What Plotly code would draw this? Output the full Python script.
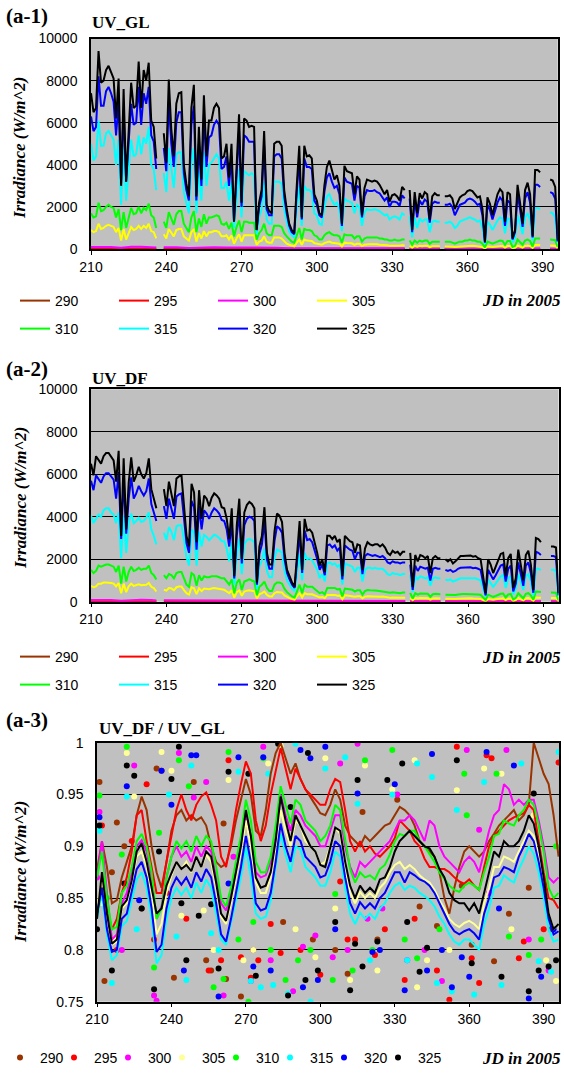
import plotly.graph_objects as go

W, H = 564, 1075

# ---------------- data ----------------
wavelengths = ['290', '295', '300', '305', '310', '315', '320', '325']
days = list(range(210, 397))          # daily axis, JD in 2005
days3 = list(range(210, 397, 2))      # ratio curves
lo_days = [210, 214, 218, 222, 226, 230, 234, 236, 237, 239, 244, 249, 254, 259, 264, 269, 274, 279,
           284, 289, 294, 299, 304, 309, 314, 319, 324, 329, 335, 336, 337, 343, 349, 350, 351, 358,
           365, 372, 379, 384, 389, 390, 393, 396]

# ---- (a-1) UV_GL ----
gl_290 = [3, 4, 3, 2, 3, 4, 3, 2, None, 2, 3, 2, 2, 3, 2, 2, 2, 1, 2, 1, 1, 1, 1, 1, 1, 1, 1, 1, 1, None,
          1, 1, 1, None, 1, 1, 1, 1, 1, 1, 1, None, 1, 0]
gl_295 = [25, 30, 25, 15, 28, 30, 25, 20, None, 20, 22, 12, 20, 22, 18, 18, 18, 12, 15, 10, 10, 12, 10, 10,
          9, 8, 8, 7, 7, None, 6, 6, 6, None, 5, 5, 5, 5, 5, 5, 6, None, 5, 2]
gl_300 = [100, 110, 95, 60, 105, 110, 90, 70, None, 80, 85, 50, 80, 85, 70, 75, 70, 50, 65, 40, 45, 50, 45,
          40, 40, 35, 35, 30, 30, None, 25, 25, 25, None, 25, 25, 25, 22, 20, 25, 28, None, 25, 10]
gl_305 = [900, 800, 850, 1200, 950, 1000, 1100, 1150, 1100, 1050,
          800, 1000, 400, 950, 450, 800, 1050, 900, 950, 1100,
          950, 1100, 1000, 1200, 850, 800, 500, None, None, 700,
          500, 950, 750, 600, 900, 950, 950, 600, 500, 400,
          800, 950, 350, 750, 500, 850, 600, 800, 800, 850,
          850, 800, 600, 600, 650, 450, 650, 250, 500, 700,
          350, 650, 650, 650, 650, 650, 200, 350, 400, 600,
          350, 300, 300, 550, 550, 550, 500, 350, 250, 200,
          150, 130, 300, 450, 200, 450, 400, 400, 380, 280,
          250, 200, 200, 280, 320, 350, 300, 280, 280, 250,
          120, 300, 280, 280, 270, 200, 250, 250, 140, 200,
          230, 230, 220, 230, 220, 200, 200, 180, 180, 150,
          160, 170, 160, 150, 180, 170, None, 150, 70, 150,
          110, 150, 130, 150, 150, 90, 130, 130, 130, 130,
          None, 120, 120, 130, 110, 90, 100, 120, 130, 140,
          150, 160, 150, 140, 130, 130, 90, 30, 120, 110,
          90, 110, 130, 150, 140, 70, 140, 140, 40, 60,
          160, 120, 70, 150, 170, 140, 50, 190, 190, 190,
          None, None, None, 170, 170, 160, 40]
gl_310 = [1700, 1500, 1550, 2200, 1800, 1850, 2000, 2100, 2000, 1950,
          1500, 1900, 900, 1750, 1000, 1500, 1950, 1650, 1700, 2000,
          1700, 1950, 1850, 2150, 1600, 1500, 1000, None, None, 1300,
          1000, 1750, 1400, 1150, 1650, 1800, 1800, 1200, 1000, 800,
          1500, 1800, 800, 1450, 1050, 1650, 1200, 1500, 1500, 1550,
          1600, 1550, 1200, 1150, 1250, 950, 1250, 600, 1050, 1350,
          800, 1300, 1300, 1250, 1250, 1250, 450, 750, 900, 1200,
          750, 650, 650, 1100, 1100, 1100, 1050, 750, 600, 450,
          350, 300, 700, 1000, 450, 950, 900, 900, 850, 650,
          600, 450, 450, 650, 750, 800, 700, 650, 650, 600,
          300, 700, 650, 650, 650, 500, 600, 600, 350, 500,
          550, 550, 550, 550, 550, 500, 500, 450, 450, 400,
          400, 450, 400, 400, 450, 450, None, 400, 200, 400,
          300, 400, 350, 400, 400, 250, 350, 350, 350, 350,
          None, 350, 350, 350, 300, 250, 300, 350, 350, 400,
          400, 450, 400, 400, 350, 350, 250, 80, 350, 300,
          250, 300, 350, 400, 380, 200, 380, 380, 100, 150,
          450, 320, 200, 400, 450, 380, 120, 500, 500, 500,
          None, None, None, 450, 450, 420, 100]
gl_315 = [5000, 4200, 4400, 6100, 4900, 4900, 5500, 5600, 5400, 5200,
          4000, 5200, 2100, 4900, 2300, 3800, 5200, 4400, 4500, 5400,
          4500, 5300, 5000, 5800, 4000, 3800, 2800, None, None, 3600,
          2700, 4800, 3700, 2900, 4500, 4600, 4600, 2700, 2200, 1700,
          4100, 4800, 1700, 3700, 2300, 4600, 3000, 4000, 4100, 4300,
          4500, 4300, 2900, 2900, 3200, 2300, 3200, 1000, 2600, 3800,
          1500, 3700, 3600, 3500, 3600, 3500, 700, 1500, 1900, 3200,
          1400, 1200, 1200, 3200, 3200, 3200, 3100, 1900, 1300, 850,
          650, 550, 2000, 3000, 1100, 3000, 2800, 2800, 2700, 1700,
          1600, 1200, 1150, 2000, 2500, 2600, 2300, 2100, 2200, 1900,
          850, 2400, 2300, 2250, 2200, 1700, 2100, 2000, 1100, 1750,
          1900, 1850, 1850, 1900, 1850, 1800, 1700, 1600, 1650, 1400,
          1500, 1550, 1500, 1400, 1700, 1600, None, 1550, 550, 1500,
          1000, 1450, 1300, 1400, 1400, 800, 1300, 1350, 1300, 1300,
          None, 1250, 1250, 1300, 1200, 1000, 1100, 1300, 1350, 1400,
          1450, 1500, 1450, 1400, 1300, 1350, 1000, 250, 1300, 1150,
          900, 1150, 1350, 1500, 1450, 750, 1450, 1400, 300, 550,
          1600, 1200, 700, 1500, 1700, 1400, 400, 1950, 1950, 1900,
          None, None, None, 1750, 1700, 1500, 300]
gl_320 = [6300, 5600, 5800, 8200, 6800, 6800, 7500, 7700, 7400, 7000,
          5400, 7000, 3100, 6600, 3200, 5000, 6900, 5900, 6000, 7700,
          5900, 7400, 6900, 7700, 5400, 5100, 3800, None, None, 4800,
          3700, 7000, 5000, 3900, 6000, 6500, 6500, 3600, 2800, 2300,
          5900, 6800, 2300, 5000, 3000, 6400, 3900, 5300, 5400, 5900,
          6100, 5900, 3800, 3900, 4400, 3000, 4400, 1300, 3600, 5600,
          2000, 5400, 5300, 5100, 5100, 5100, 900, 2000, 2500, 4900,
          1900, 1600, 1600, 4400, 4500, 4500, 4300, 2500, 1700, 1100,
          800, 700, 2700, 4300, 1400, 4300, 3900, 3900, 3800, 2300,
          2100, 1600, 1500, 2700, 3400, 3600, 3200, 2900, 3000, 2600,
          1100, 3400, 3200, 3150, 3100, 2300, 3000, 2900, 1500, 2500,
          2800, 2750, 2750, 2800, 2700, 2650, 2500, 2300, 2450, 2000,
          2250, 2250, 2200, 2050, 2550, 2400, None, 2400, 800, 2350,
          1500, 2300, 2100, 2350, 2250, 1250, 2150, 2250, 2200, 2200,
          None, 2100, 2100, 2150, 2000, 1600, 1850, 2100, 2150, 2200,
          2350, 2400, 2350, 2250, 2100, 2150, 1600, 300, 2100, 1850,
          1400, 1800, 2200, 2450, 2300, 1100, 2300, 2200, 450, 800,
          2600, 1900, 1050, 2400, 2700, 2200, 550, 3050, 3050, 2950,
          None, None, None, 2700, 2650, 2400, 350]
gl_325 = [7400, 6500, 6700, 9400, 7900, 8000, 8500, 8700, 8400, 8100,
          6200, 8100, 3000, 7600, 3200, 5800, 7900, 6700, 6800, 8900,
          6700, 8500, 8000, 8850, 6100, 5800, 4300, None, None, 5500,
          4100, 8050, 5700, 4400, 6900, 7400, 7450, 4000, 3100, 2500,
          6700, 7800, 2500, 5800, 3300, 7300, 4400, 6100, 6100, 6700,
          6900, 6700, 4300, 4400, 5000, 3400, 5000, 1300, 4100, 6400,
          2200, 6200, 6100, 5800, 5850, 5800, 900, 2200, 2800, 5600,
          2100, 1800, 1700, 5000, 5100, 5100, 4900, 2800, 1900, 1200,
          900, 750, 3000, 4900, 1500, 4900, 4400, 4450, 4300, 2600,
          2300, 1700, 1600, 3000, 3900, 4200, 3750, 3300, 3500, 3000,
          1200, 3950, 3700, 3650, 3600, 2600, 3450, 3300, 1600, 2900,
          3300, 3250, 3200, 3250, 3200, 3050, 2850, 2600, 2800, 2250,
          2550, 2600, 2500, 2300, 2950, 2800, None, 2800, 900, 2700,
          1700, 2650, 2400, 2700, 2600, 1400, 2500, 2650, 2550, 2550,
          None, 2500, 2500, 2550, 2400, 1900, 2150, 2450, 2550, 2600,
          2750, 2800, 2750, 2600, 2450, 2500, 1900, 350, 2450, 2150,
          1600, 2100, 2600, 2850, 2700, 1300, 2700, 2600, 500, 900,
          3050, 2200, 1200, 2800, 3150, 2600, 600, 3750, 3750, 3650,
          None, None, None, 3300, 3250, 2950, 400]

# ---- (a-2) UV_DF ----
df_290 = [2, 3, 2, 1, 2, 3, 2, 2, None, 2, 2, 1, 2, 2, 2, 2, 1, 1, 1, 1, 1, 1, 1, 1, 1, 1, 1, 1, 1, None,
          1, 1, 1, None, 1, 1, 1, 1, 1, 1, 1, None, 1, 0]
df_295 = [22, 26, 22, 14, 24, 26, 22, 18, None, 18, 20, 11, 18, 20, 16, 16, 16, 10, 13, 9, 9, 10, 9, 9,
          8, 7, 7, 6, 6, None, 5, 5, 5, None, 5, 5, 5, 5, 4, 5, 5, None, 5, 2]
df_300 = [80, 90, 80, 50, 85, 90, 75, 60, None, 65, 70, 45, 65, 70, 60, 60, 60, 40, 55, 35, 40, 45, 40,
          35, 35, 30, 30, 28, 28, None, 22, 22, 22, None, 22, 22, 22, 20, 18, 22, 25, None, 22, 8]
df_305 = [750, 680, 720, 850, 850, 900, 900, 900, 880, 850,
          720, 880, 400, 850, 450, 720, 850, 740, 780, 820,
          780, 800, 800, 880, 700, 640, 480, None, None, 560,
          520, 640, 620, 540, 680, 710, 710, 550, 400, 340,
          680, 630, 360, 630, 500, 620, 590, 590, 620, 640,
          620, 600, 570, 560, 480, 400, 540, 190, 450, 530,
          280, 480, 520, 540, 520, 490, 150, 350, 400, 480,
          320, 250, 250, 400, 450, 450, 430, 300, 220, 170,
          120, 100, 270, 400, 200, 400, 350, 350, 350, 300,
          250, 200, 220, 170, 320, 320, 300, 320, 280, 290,
          120, 300, 290, 280, 270, 230, 260, 260, 160, 240,
          260, 250, 240, 250, 240, 230, 240, 220, 200, 190,
          200, 190, 190, 180, 190, 190, None, 180, 70, 170,
          150, 170, 160, 150, 160, 100, 150, 160, 150, 150,
          None, 140, 130, 140, 120, 130, 140, 150, 150, 150,
          150, 160, 150, 150, 140, 130, 80, 30, 130, 110,
          90, 110, 130, 150, 160, 80, 140, 150, 40, 70,
          170, 110, 60, 150, 170, 120, 40, 200, 200, 190,
          None, None, None, 180, 180, 170, 30]
df_310 = [1500, 1350, 1450, 1700, 1650, 1700, 1750, 1750, 1700, 1650,
          1400, 1700, 850, 1650, 950, 1400, 1650, 1450, 1500, 1600,
          1500, 1550, 1550, 1700, 1350, 1250, 1050, None, None, 1250,
          1100, 1300, 1250, 1100, 1350, 1400, 1400, 1100, 800, 700,
          1350, 1250, 750, 1250, 1000, 1200, 1150, 1150, 1200, 1200,
          1200, 1150, 1100, 1100, 950, 800, 1050, 400, 900, 1050,
          550, 950, 1000, 1050, 1000, 950, 300, 700, 800, 950,
          650, 500, 500, 800, 900, 900, 850, 600, 450, 350,
          250, 200, 550, 800, 400, 800, 700, 700, 700, 600,
          500, 400, 450, 350, 650, 650, 620, 650, 580, 600,
          250, 620, 600, 580, 560, 480, 540, 540, 330, 500,
          550, 540, 520, 530, 520, 500, 510, 480, 440, 420,
          440, 430, 430, 400, 430, 430, None, 420, 150, 400,
          330, 380, 370, 350, 370, 230, 350, 370, 350, 350,
          None, 330, 320, 330, 300, 320, 340, 360, 360, 360,
          360, 370, 360, 360, 340, 330, 200, 80, 330, 290,
          230, 270, 330, 370, 380, 200, 340, 370, 100, 180,
          400, 270, 160, 370, 400, 300, 90, 480, 470, 460,
          None, None, None, 430, 430, 420, 60]
df_315 = [4050, 3700, 3900, 4100, 4000, 4300, 4400, 4400, 4200, 4100,
          3700, 4200, 2050, 4050, 2300, 3700, 4150, 3700, 3800, 3950,
          3750, 3800, 3950, 4200, 3400, 3100, 2700, None, None, 3250,
          2900, 3500, 3300, 2900, 3550, 3600, 3600, 2900, 2100, 1700,
          3400, 3250, 1700, 3300, 2600, 3150, 3050, 2900, 3050, 3150,
          3100, 3000, 2850, 2850, 2500, 1900, 2800, 800, 2300, 2950,
          1300, 2700, 2900, 2950, 2900, 2800, 600, 1650, 1950, 2500,
          1450, 1150, 1150, 2050, 2450, 2400, 2300, 1450, 1000, 800,
          600, 500, 1450, 2250, 1000, 2300, 2000, 2050, 1950, 1700,
          1500, 1100, 1300, 950, 1800, 1850, 1750, 1800, 1650, 1750,
          800, 1800, 1750, 1700, 1650, 1400, 1600, 1600, 950, 1500,
          1600, 1600, 1550, 1600, 1550, 1550, 1550, 1450, 1300, 1250,
          1350, 1300, 1300, 1250, 1300, 1300, None, 1250, 450, 1200,
          1050, 1200, 1150, 1100, 1150, 750, 1100, 1150, 1100, 1100,
          None, 1050, 1000, 1050, 950, 1000, 1050, 1100, 1100, 1100,
          1100, 1120, 1100, 1100, 1050, 1000, 650, 250, 1050, 900,
          700, 850, 1050, 1200, 1250, 650, 1100, 1200, 350, 600,
          1300, 900, 550, 1200, 1300, 950, 300, 1550, 1550, 1500,
          None, None, None, 1500, 1500, 1450, 250]
df_320 = [5700, 5250, 5950, 5800, 5600, 5900, 6050, 6050, 5900, 5750,
          4850, 6100, 2950, 5800, 3200, 4850, 5850, 4850, 5100, 5450,
          5200, 5000, 5200, 5800, 4600, 4200, 3800, None, None, 4500,
          3900, 4850, 4400, 3900, 4950, 5050, 5100, 3900, 2750, 2300,
          4750, 4450, 2450, 4500, 3400, 4300, 4150, 3900, 4200, 4400,
          4300, 4150, 3850, 3800, 3400, 2600, 3800, 1100, 3100, 4150,
          1800, 3600, 3900, 4000, 3950, 3800, 800, 2250, 2700, 3800,
          2000, 1550, 1550, 2850, 3550, 3450, 3250, 2000, 1350, 1050,
          800, 650, 2000, 3250, 1350, 3350, 2900, 2950, 2800, 2450,
          2000, 1500, 1750, 1250, 2650, 2700, 2550, 2650, 2400, 2550,
          1050, 2650, 2550, 2450, 2400, 2000, 2300, 2300, 1300, 2150,
          2250, 2200, 2150, 2200, 2150, 2100, 2150, 2050, 1850, 1800,
          1900, 1850, 1850, 1800, 1850, 1850, None, 1750, 550, 1700,
          1450, 1650, 1600, 1550, 1600, 1000, 1550, 1600, 1550, 1550,
          None, 1500, 1450, 1500, 1400, 1450, 1550, 1600, 1600, 1600,
          1600, 1620, 1580, 1600, 1550, 1500, 900, 300, 1500, 1300,
          1050, 1250, 1500, 1700, 1750, 950, 1550, 1700, 480, 850,
          1850, 1250, 750, 1700, 1850, 1350, 420, 2350, 2300, 2200,
          None, None, None, 2150, 2150, 2100, 300]
df_325 = [6500, 5950, 6850, 6700, 6500, 6850, 7000, 7000, 6850, 6650,
          5650, 7100, 3100, 6750, 3400, 5600, 6800, 5650, 5950, 6350,
          6000, 5800, 6050, 6750, 5300, 4850, 4400, None, None, 5300,
          4500, 5650, 5150, 4500, 5800, 5900, 5950, 4500, 3100, 2600,
          5550, 5150, 2800, 5250, 3900, 5000, 4850, 4500, 4900, 5100,
          5000, 4850, 4450, 4400, 3900, 2950, 4400, 1200, 3600, 4850,
          2000, 4200, 4550, 4700, 4600, 4400, 900, 2600, 3100, 4450,
          2300, 1750, 1750, 3300, 4150, 4050, 3750, 2300, 1500, 1200,
          900, 700, 2300, 3800, 1500, 3900, 3350, 3400, 3250, 2800,
          2300, 1700, 2000, 1400, 3100, 3100, 2950, 3100, 2800, 2950,
          1200, 3100, 2950, 2850, 2800, 2300, 2700, 2650, 1500, 2500,
          2800, 2700, 2650, 2700, 2700, 2600, 2700, 2550, 2300, 2200,
          2400, 2300, 2350, 2200, 2350, 2350, None, 2300, 700, 2200,
          1900, 2200, 2150, 2050, 2150, 1350, 2050, 2150, 2050, 2050,
          None, 2000, 1900, 2000, 1800, 1900, 2050, 2150, 2150, 2150,
          2150, 2180, 2120, 2150, 2050, 2000, 1200, 400, 2000, 1750,
          1350, 1650, 2000, 2250, 2300, 1200, 2050, 2250, 650, 1100,
          2450, 1650, 1000, 2200, 2400, 1750, 550, 3000, 2950, 2800,
          None, None, None, 2600, 2600, 2550, 400]

# ---- (a-3) UV_DF / UV_GL : smoothed ratio curves (every 2nd day) ----
r_290 = [0.877, 0.905, 0.88, 0.845, 0.848, 0.87, 0.885, 0.9, 0.93, 0.948,
         0.935, 0.9, 0.875, 0.86, 0.885, 0.915, 0.93, 0.935, 0.925, 0.93,
         0.925, 0.928, 0.92, 0.9, 0.885, 0.88, 0.883, 0.9, 0.925, 0.945,
         0.965, 0.95, 0.915, 0.91, 0.935, 0.97, 0.99, 1.0, 0.985, 0.97,
         0.98, 0.965, 0.955, 0.948, 0.94, 0.932, 0.93, 0.94, 0.955, 0.945,
         0.92, 0.91, 0.905, 0.9, 0.91, 0.905, 0.91, 0.915, 0.92, 0.922,
         0.93, 0.938, 0.935, 0.93, 0.92, 0.905, 0.9, 0.895, 0.89, 0.875,
         0.85, 0.835, 0.86, 0.88, 0.895, 0.9, 0.895, 0.89, 0.895, 0.905,
         0.912, 0.92, 0.925, 0.93, 0.935, 0.925, 0.93, 0.94, 1.0, 0.985,
         0.97, 0.96, 0.93, 0.89]
r_295 = [0.835, 0.87, 0.84, 0.82, 0.83, 0.855, 0.87, 0.895, 0.93, 0.935,
         0.905, 0.88, 0.855, 0.855, 0.885, 0.91, 0.935, 0.95, 0.935, 0.925,
         0.94, 0.948, 0.952, 0.94, 0.925, 0.89, 0.88, 0.905, 0.935, 0.96,
         0.982, 0.97, 0.925, 0.905, 0.92, 0.95, 0.972, 0.995, 0.975, 0.955,
         0.975, 0.965, 0.955, 0.95, 0.945, 0.94, 0.94, 0.955, 0.965, 0.962,
         0.935, 0.905, 0.895, 0.905, 0.895, 0.9, 0.893, 0.89, 0.895, 0.9,
         0.908, 0.925, 0.92, 0.915, 0.905, 0.9, 0.888, 0.88, 0.88, 0.878,
         0.878, 0.875, 0.87, 0.866, 0.864, 0.868, 0.862, 0.858, 0.88, 0.9,
         0.91, 0.915, 0.92, 0.925, 0.928, 0.93, 0.932, 0.94, 0.935, 0.905,
         0.875, 0.85, 0.848, 0.84]
r_300 = [0.87, 0.905, 0.855, 0.81, 0.815, 0.845, 0.855, 0.875, 0.9, 0.906,
         0.895, 0.87, 0.83, 0.842, 0.87, 0.89, 0.9, 0.89, 0.895, 0.885,
         0.9, 0.89, 0.9, 0.895, 0.87, 0.845, 0.838, 0.855, 0.88, 0.905,
         0.93, 0.91, 0.875, 0.87, 0.872, 0.885, 0.91, 0.95, 0.93, 0.915,
         0.935, 0.93, 0.92, 0.915, 0.91, 0.9, 0.9, 0.915, 0.93, 0.93,
         0.9, 0.88, 0.87, 0.885, 0.88, 0.885, 0.89, 0.895, 0.9, 0.905,
         0.915, 0.925, 0.925, 0.93, 0.925, 0.915, 0.905, 0.925, 0.92, 0.9,
         0.89, 0.885, 0.88, 0.875, 0.885, 0.89, 0.885, 0.875, 0.895, 0.915,
         0.93, 0.935, 0.96, 0.955, 0.94, 0.945, 0.94, 0.945, 0.945, 0.925,
         0.9, 0.87, 0.865, 0.87]
r_305 = [0.84, 0.87, 0.83, 0.805, 0.808, 0.84, 0.845, 0.865, 0.89, 0.895,
         0.88, 0.855, 0.815, 0.825, 0.855, 0.872, 0.885, 0.878, 0.885, 0.875,
         0.89, 0.88, 0.892, 0.885, 0.86, 0.832, 0.825, 0.845, 0.87, 0.895,
         0.925, 0.9, 0.865, 0.855, 0.855, 0.87, 0.9, 0.935, 0.915, 0.9,
         0.925, 0.92, 0.905, 0.9, 0.895, 0.882, 0.885, 0.9, 0.918, 0.912,
         0.88, 0.855, 0.845, 0.856, 0.85, 0.855, 0.85, 0.86, 0.865, 0.875,
         0.882, 0.885, 0.878, 0.882, 0.878, 0.872, 0.868, 0.865, 0.858, 0.848,
         0.84, 0.83, 0.825, 0.822, 0.826, 0.828, 0.825, 0.82, 0.845, 0.86,
         0.88, 0.88, 0.89, 0.888, 0.885, 0.895, 0.905, 0.915, 0.91, 0.89,
         0.865, 0.835, 0.82, 0.825]
r_310 = [0.87, 0.895, 0.85, 0.82, 0.822, 0.855, 0.862, 0.88, 0.905, 0.912,
         0.9, 0.875, 0.83, 0.84, 0.87, 0.89, 0.905, 0.898, 0.905, 0.895,
         0.91, 0.9, 0.91, 0.905, 0.88, 0.85, 0.842, 0.86, 0.885, 0.91,
         0.945, 0.925, 0.885, 0.875, 0.875, 0.89, 0.92, 0.958, 0.94, 0.922,
         0.945, 0.94, 0.925, 0.92, 0.915, 0.905, 0.91, 0.92, 0.94, 0.935,
         0.905, 0.878, 0.865, 0.875, 0.87, 0.872, 0.868, 0.878, 0.882, 0.892,
         0.905, 0.912, 0.91, 0.915, 0.915, 0.905, 0.9, 0.892, 0.885, 0.875,
         0.868, 0.862, 0.858, 0.856, 0.862, 0.865, 0.862, 0.858, 0.875, 0.89,
         0.91, 0.912, 0.925, 0.922, 0.92, 0.93, 0.935, 0.945, 0.94, 0.92,
         0.895, 0.86, 0.85, 0.855]
r_315 = [0.83, 0.855, 0.815, 0.79, 0.795, 0.823, 0.828, 0.848, 0.868, 0.875,
         0.86, 0.83, 0.787, 0.795, 0.83, 0.85, 0.86, 0.853, 0.86, 0.85,
         0.865, 0.855, 0.868, 0.86, 0.835, 0.81, 0.805, 0.825, 0.848, 0.87,
         0.9, 0.87, 0.835, 0.83, 0.832, 0.848, 0.878, 0.912, 0.892, 0.875,
         0.9, 0.897, 0.88, 0.875, 0.87, 0.862, 0.862, 0.875, 0.895, 0.89,
         0.86, 0.835, 0.825, 0.836, 0.83, 0.835, 0.83, 0.84, 0.845, 0.855,
         0.862, 0.865, 0.858, 0.862, 0.86, 0.855, 0.852, 0.848, 0.842, 0.832,
         0.825, 0.815, 0.808, 0.805, 0.81, 0.81, 0.805, 0.8, 0.825, 0.84,
         0.86, 0.862, 0.872, 0.868, 0.865, 0.878, 0.888, 0.9, 0.893, 0.875,
         0.85, 0.82, 0.808, 0.81]
r_320 = [0.835, 0.86, 0.82, 0.798, 0.8, 0.83, 0.835, 0.855, 0.878, 0.885,
         0.87, 0.84, 0.798, 0.805, 0.84, 0.86, 0.87, 0.863, 0.87, 0.86,
         0.875, 0.866, 0.878, 0.87, 0.845, 0.815, 0.808, 0.83, 0.855, 0.88,
         0.91, 0.885, 0.845, 0.838, 0.84, 0.855, 0.885, 0.922, 0.9, 0.885,
         0.91, 0.905, 0.89, 0.885, 0.88, 0.87, 0.872, 0.885, 0.905, 0.9,
         0.87, 0.845, 0.835, 0.846, 0.84, 0.845, 0.84, 0.85, 0.855, 0.865,
         0.875, 0.875, 0.865, 0.875, 0.872, 0.868, 0.866, 0.862, 0.855, 0.845,
         0.835, 0.825, 0.818, 0.815, 0.818, 0.82, 0.816, 0.81, 0.835, 0.85,
         0.87, 0.872, 0.88, 0.878, 0.875, 0.89, 0.9, 0.912, 0.905, 0.885,
         0.86, 0.83, 0.815, 0.818]
r_325 = [0.83, 0.875, 0.835, 0.806, 0.81, 0.842, 0.848, 0.867, 0.895, 0.903,
         0.885, 0.86, 0.835, 0.84, 0.862, 0.874, 0.885, 0.878, 0.882, 0.876,
         0.89, 0.88, 0.895, 0.89, 0.865, 0.835, 0.828, 0.85, 0.875, 0.9,
         0.935, 0.91, 0.87, 0.86, 0.862, 0.875, 0.905, 0.948, 0.925, 0.905,
         0.93, 0.92, 0.91, 0.9, 0.895, 0.882, 0.88, 0.9, 0.918, 0.915,
         0.885, 0.862, 0.85, 0.862, 0.855, 0.86, 0.855, 0.868, 0.87, 0.88,
         0.895, 0.905, 0.91, 0.915, 0.91, 0.905, 0.9, 0.898, 0.89, 0.878,
         0.87, 0.855, 0.848, 0.845, 0.845, 0.838, 0.845, 0.835, 0.855, 0.875,
         0.895, 0.89, 0.905, 0.9, 0.9, 0.905, 0.915, 0.93, 0.922, 0.9,
         0.87, 0.835, 0.82, 0.825]

# daily ratio points standing out of the curves
d_290 = [211, 213, 216, 218, 221, 228, 234, 236, 241, 249, 254, 256, 261, 262, 268, 273, 285, 297, 306,
         311, 317, 323, 331, 340, 347, 357, 361, 370, 376, 384, 393]
v_290 = [0.962, 0.77, 0.875, 0.923, 0.9, 0.84, 0.975, 0.973, 0.773, 0.962, 0.79, 0.78, 0.922, 0.772,
         0.755, 0.8, 0.827, 0.81, 0.8, 0.777, 0.933, 0.81, 0.945, 0.842, 0.823, 0.862, 0.805, 0.789,
         0.835, 0.86, 0.82]
d_295 = [212, 218, 224, 230, 233, 238, 246, 255, 260, 263, 268, 272, 275, 280, 284, 292, 300, 308, 311,
         314, 322, 326, 334, 338, 347, 352, 355, 361, 364, 367, 369, 380, 382, 390, 396]
v_295 = [0.92, 0.8, 0.905, 0.96, 0.81, 0.855, 0.83, 0.78, 0.79, 0.983, 0.793, 0.773, 0.79, 0.825, 0.797,
         0.8, 0.776, 0.866, 0.81, 0.81, 0.795, 0.82, 0.771, 0.83, 0.78, 0.752, 0.996, 0.792, 0.768,
         0.988, 0.985, 0.792, 0.808, 0.82, 0.981]
d_300 = [210, 211, 220, 225, 233, 234, 243, 249, 254, 261, 265, 272, 277, 280, 289, 293, 298, 305, 308,
         311, 315, 319, 325, 331, 335, 342, 349, 359, 364, 368, 375, 384, 392]
v_300 = [0.87, 0.933, 0.8, 0.978, 0.756, 0.751, 0.99, 0.947, 0.962, 0.756, 0.89, 0.77, 0.996, 0.79,
         0.76, 0.803, 0.814, 0.793, 0.98, 0.8, 0.999, 0.83, 0.84, 0.95, 0.79, 0.8, 0.77, 0.993, 0.916,
         0.855, 0.993, 0.81, 0.78]
d_305 = [212, 217, 222, 225, 236, 240, 244, 253, 257, 263, 269, 273, 279, 284, 290, 298, 302, 306, 312,
         318, 323, 329, 338, 339, 343, 352, 355, 366, 373, 377, 386, 391, 395]
v_305 = [0.845, 0.81, 0.99, 0.948, 0.991, 0.973, 0.833, 0.838, 0.8, 0.964, 0.79, 0.8, 0.98, 0.997,
         0.82, 0.793, 0.985, 0.84, 0.771, 0.978, 0.78, 0.955, 0.983, 0.764, 0.79, 0.8, 0.954, 0.975,
         0.97, 0.82, 0.93, 0.79, 0.77]
d_310 = [211, 214, 220, 222, 233, 235, 243, 247, 257, 261, 263, 267, 271, 273, 277, 280, 286, 291, 296,
         305, 306, 313, 318, 321, 329, 334, 339, 348, 358, 359, 371, 376, 384, 389, 395]
v_310 = [0.949, 0.85, 0.892, 0.996, 0.783, 0.913, 0.983, 0.958, 0.764, 0.772, 0.991, 0.81, 0.75, 0.827,
         0.985, 0.8, 0.771, 0.79, 0.8, 0.771, 0.854, 0.78, 0.983, 0.8, 0.993, 0.81, 0.792, 0.82, 0.97,
         0.93, 0.97, 0.813, 0.795, 0.81, 0.9]
d_315 = [211, 216, 222, 226, 239, 242, 246, 248, 256, 259, 267, 272, 276, 279, 281, 287, 290, 296, 302,
         310, 315, 320, 329, 335, 339, 345, 347, 353, 355, 362, 366, 373, 381, 388, 393, 396]
v_315 = [0.915, 0.768, 0.948, 0.82, 0.95, 0.813, 0.771, 0.978, 0.816, 0.8, 0.972, 0.77, 0.764, 0.97,
         0.766, 0.758, 0.999, 0.75, 0.975, 0.986, 0.941, 0.79, 0.95, 0.79, 0.98, 0.967, 0.768, 0.76,
         0.935, 0.757, 0.962, 0.766, 0.98, 0.789, 0.779, 0.991]
d_320 = [211, 215, 222, 227, 236, 240, 245, 248, 250, 259, 263, 267, 273, 277, 280, 292, 293, 296, 299,
         302, 306, 315, 321, 324, 330, 334, 343, 345, 349, 353, 357, 360, 367, 372, 378, 384, 389, 394]
v_320 = [0.928, 0.82, 0.958, 0.848, 0.973, 0.94, 0.78, 0.988, 0.988, 0.755, 0.864, 0.986, 0.784, 0.986,
         0.78, 0.993, 0.764, 0.985, 0.771, 0.996, 0.82, 0.951, 0.798, 0.8, 0.96, 0.761, 0.78, 0.989, 0.8,
         0.764, 0.793, 0.774, 0.991, 0.84, 0.978, 0.753, 0.774, 0.82]
d_325 = [210, 211, 216, 221, 222, 225, 228, 233, 235, 240, 243, 244, 246, 251, 256, 259, 263, 271, 274,
         283, 287, 288, 294, 295, 299, 306, 312, 314, 315, 317, 323, 327, 333, 335, 340, 343, 355, 361,
         373, 384, 386, 388, 392, 395]
v_325 = [0.82, 0.92, 0.78, 0.864, 0.978, 0.968, 0.84, 0.762, 0.895, 0.965, 0.996, 0.845, 0.79, 0.833,
         0.844, 0.782, 0.972, 0.97, 0.775, 0.999, 0.756, 0.938, 0.771, 0.99, 0.78, 0.827, 0.761, 0.806,
         0.964, 0.784, 0.808, 0.964, 0.98, 0.827, 0.779, 0.802, 0.983, 0.787, 0.774, 0.76, 0.951, 0.78,
         0.784, 0.79]

# ---------------- styling ----------------
line_colors = {'290': '#993300', '295': '#FF0000', '300': '#FF00FF', '305': '#FFFF00',
               '310': '#00FF00', '315': '#00FFFF', '320': '#0000FF', '325': '#000000'}
ratio_colors = dict(line_colors, **{'305': '#FFFF99'})
SANS = 'Liberation Sans, Arial, sans-serif'
SERIF = 'Liberation Serif, Times New Roman, serif'


def fx(p):
    return p / W


def fy(p):
    return 1 - p / H


gl = {'290': gl_290, '295': gl_295, '300': gl_300, '305': gl_305,
      '310': gl_310, '315': gl_315, '320': gl_320, '325': gl_325}
df = {'290': df_290, '295': df_295, '300': df_300, '305': df_305,
      '310': df_310, '315': df_315, '320': df_320, '325': df_325}
ratio = {'290': r_290, '295': r_295, '300': r_300, '305': r_305,
         '310': r_310, '315': r_315, '320': r_320, '325': r_325}
dots = {'290': (d_290, v_290), '295': (d_295, v_295), '300': (d_300, v_300), '305': (d_305, v_305),
        '310': (d_310, v_310), '315': (d_315, v_315), '320': (d_320, v_320), '325': (d_325, v_325)}
low = ('290', '295', '300')

fig = go.Figure()

for data, xa, ya, legs in ((gl, 'x', 'y', ('legend', 'legend2')), (df, 'x2', 'y2', ('legend3', 'legend4'))):
    for i, w in enumerate(wavelengths):
        fig.add_trace(go.Scatter(
            x=lo_days if w in low else days, y=data[w], mode='lines', name=w,
            line=dict(color=line_colors[w], width=2), xaxis=xa, yaxis=ya,
            legend=legs[0] if i < 4 else legs[1], connectgaps=False, hoverinfo='skip'))

for w in wavelengths:
    extra = dict(legendwidth=30) if w == '325' else {}
    fig.add_trace(go.Scatter(
        x=dots[w][0], y=dots[w][1], mode='markers', name=w,
        marker=dict(color=ratio_colors[w], size=6, line=dict(width=0)),
        xaxis='x3', yaxis='y3', legend='legend5', cliponaxis=True, **extra))
for w in wavelengths:
    fig.add_trace(go.Scatter(
        x=days3, y=ratio[w], mode='lines', name=w, showlegend=False,
        line=dict(color=ratio_colors[w], width=2), xaxis='x3', yaxis='y3'))

xcommon = dict(tick0=210, dtick=30, showgrid=False, showline=True, linecolor='black', linewidth=1.5,
               mirror=True, ticks='outside', ticklen=4, tickcolor='black', zeroline=False,
               automargin=False, tickfont=dict(family=SANS, size=14, color='black'))
ycommon = dict(showgrid=True, gridcolor='black', gridwidth=1, showline=True, linecolor='black',
               linewidth=1.5, mirror=True, ticks='', zeroline=False, automargin=False,
               ticklabelstandoff=9, tickfont=dict(family=SANS, size=14, color='black'))

layout = dict(
    width=W, height=H, margin=dict(l=0, r=0, t=0, b=0, autoexpand=False),
    paper_bgcolor='white', plot_bgcolor='#C0C0C0', showlegend=True,
    xaxis=dict(xcommon, domain=[fx(91), fx(557.7)], range=[210, 396], anchor='y'),
    yaxis=dict(ycommon, domain=[fy(249), fy(38.5)], range=[0, 10000], dtick=2000, tickformat='d', anchor='x'),
    xaxis2=dict(xcommon, domain=[fx(91), fx(558.5)], range=[210, 396], anchor='y2'),
    yaxis2=dict(ycommon, domain=[fy(601.7), fy(389.3)], range=[0, 10000], dtick=2000, tickformat='d', anchor='x2'),
    xaxis3=dict(xcommon, domain=[fx(97), fx(559.3)], range=[210, 396.3], anchor='y3'),
    yaxis3=dict(ycommon, domain=[fy(1001.7), fy(742.7)], range=[0.75, 1.0], dtick=0.05, anchor='x3'),
)

legbase = dict(orientation='h', xanchor='left', yanchor='middle', bgcolor='rgba(0,0,0,0)',
               font=dict(family=SANS, size=14, color='black'), entrywidthmode='pixels',
               itemwidth=30, borderwidth=0, traceorder='normal')
layout['legend'] = dict(legbase, x=fx(15), y=fy(301), entrywidth=54)
layout['legend2'] = dict(legbase, x=fx(15), y=fy(329), entrywidth=54)
layout['legend3'] = dict(legbase, x=fx(15), y=fy(657), entrywidth=54)
layout['legend4'] = dict(legbase, x=fx(15), y=fy(685), entrywidth=54)
layout['legend5'] = dict(legbase, x=0, y=fy(1058), entrywidth=9)

fig.update_layout(**layout)

ann = []


def text(x, y, s, size, family=SERIF, xanchor='left', angle=0):
    ann.append(dict(x=fx(x), y=fy(y), xref='paper', yref='paper', text=s, showarrow=False,
                    xanchor=xanchor, yanchor='middle', textangle=angle,
                    font=dict(family=family, size=size, color='black')))


text(4, 16, '<b>(a-1)</b>', 21)
text(90, 23, '<b>UV_GL</b>', 17)
text(4, 369, '<b>(a-2)</b>', 21)
text(90, 378, '<b>UV_DF</b>', 17)
text(4, 720, '<b>(a-3)</b>', 21)
text(97, 728, '<b>UV_DF / UV_GL</b>', 17)
for yy in (300, 657, 1058):
    text(563, yy, '<b><i>JD in 2005</i></b>', 17, xanchor='right')
text(20, 148, '<b><i>Irradiance (W/m^2)</i></b>', 17, xanchor='center', angle=-90)
text(20, 498, '<b><i>Irradiance (W/m^2)</i></b>', 17, xanchor='center', angle=-90)
text(20, 872, '<b><i>Irradiance (W/m^2)</i></b>', 17, xanchor='center', angle=-90)

fig.update_layout(annotations=ann)
fig.write_html('out.html', config={'displayModeBar': False},
               post_script="document.body.style.margin='0';")
